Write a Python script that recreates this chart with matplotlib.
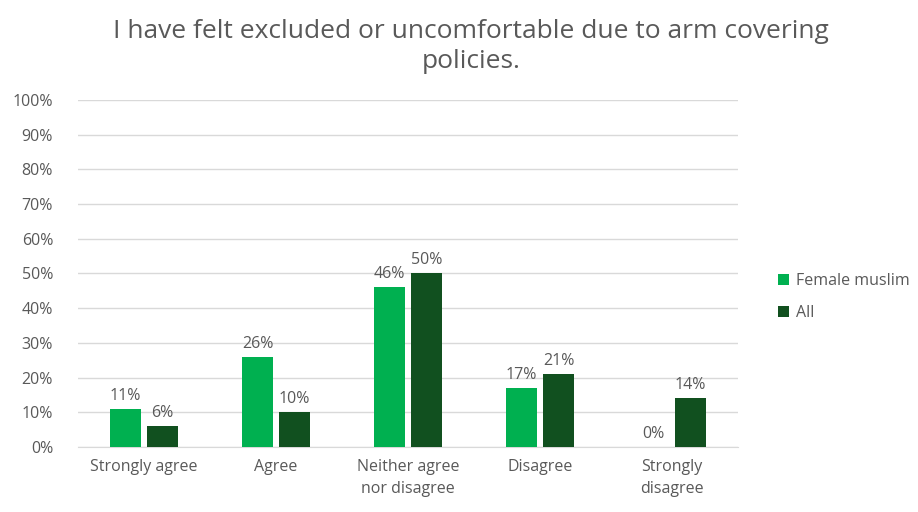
import matplotlib
matplotlib.use("Agg")
import matplotlib.pyplot as plt
import numpy as np

categories = ["Strongly agree", "Agree", "Neither agree\nnor disagree", "Disagree", "Strongly\ndisagree"]
female_muslim = [11, 26, 46, 17, 0]
all_resp = [6, 10, 50, 21, 14]
series_names = ["Female muslim", "All"]
colors = ["#00B050", "#11501F"]
yticks = list(range(0, 101, 10))

plt.rcParams['font.family'] = ['Open Sans', 'DejaVu Sans']
txt = "#595959"

fig = plt.figure(figsize=(9.18, 5.12), dpi=100)
ax = fig.add_axes([0.085, 0.127, 0.719, 0.678])
x = np.arange(len(categories))
w = 0.24
off = 0.14
b1 = ax.bar(x - off, female_muslim, w, color=colors[0], label=series_names[0], zorder=3)
b2 = ax.bar(x + off, all_resp, w, color=colors[1], label=series_names[1], zorder=3)
for bars, vals in ((b1, female_muslim), (b2, all_resp)):
    for b, v in zip(bars, vals):
        ax.text(b.get_x() + b.get_width() / 2, v + 1.5, f"{v}%", ha="center", va="bottom",
                fontsize=11.5, color=txt)

ax.set_xlim(-0.5, len(categories) - 0.5)
ax.set_ylim(0, 100)
ax.set_yticks(yticks)
ax.set_yticklabels([f"{t}%" for t in yticks], fontsize=11.5, color=txt)
ax.set_xticks(x)
ax.set_xticklabels(categories, fontsize=11.5, color=txt, linespacing=1.5)
ax.tick_params(length=0, pad=9)
ax.tick_params(axis='y', pad=18)
ax.grid(axis='y', color="#D9D9D9", linewidth=1, zorder=0)
for s in ["top", "right", "left"]:
    ax.spines[s].set_visible(False)
ax.spines["bottom"].set_color("#D9D9D9")

fig.suptitle("I have felt excluded or uncomfortable due to arm covering\npolicies.",
             fontsize=19, color=txt, y=0.962, x=0.513, linespacing=1.25)
leg = fig.legend(loc="center left", bbox_to_anchor=(0.832, 0.42), frameon=False,
                 fontsize=11.5, handlelength=0.7, handleheight=0.7, handletextpad=0.4,
                 labelspacing=1.0)
for t in leg.get_texts():
    t.set_color(txt)

fig.savefig("out.png", dpi=100)
